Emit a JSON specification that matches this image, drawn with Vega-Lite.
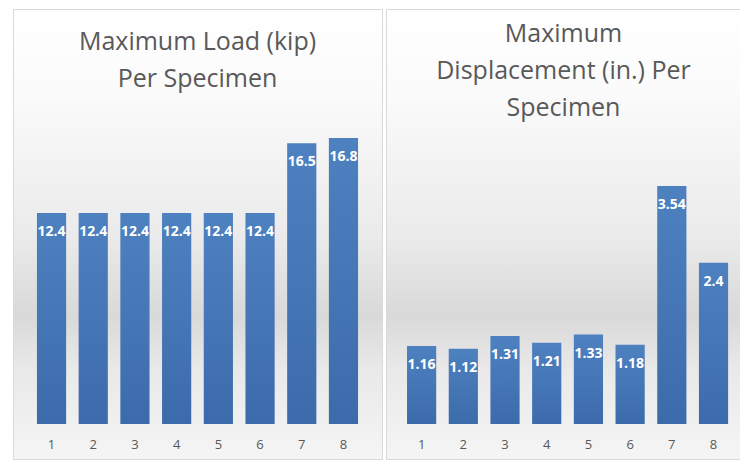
{
  "$schema": "https://vega.github.io/schema/vega-lite/v6.json",
  "padding": {"left": 12, "top": 8, "right": 0, "bottom": 3},
  "autosize": {"type": "pad"},
  "background": "#ffffff",
  "spacing": 4,
  "bounds": "flush",
  "datasets": {
    "load": [
      {"specimen": "1", "value": 12.4},
      {"specimen": "2", "value": 12.4},
      {"specimen": "3", "value": 12.4},
      {"specimen": "4", "value": 12.4},
      {"specimen": "5", "value": 12.4},
      {"specimen": "6", "value": 12.4},
      {"specimen": "7", "value": 16.5},
      {"specimen": "8", "value": 16.8}
    ],
    "displacement": [
      {"specimen": "1", "value": 1.16},
      {"specimen": "2", "value": 1.12},
      {"specimen": "3", "value": 1.31},
      {"specimen": "4", "value": 1.21},
      {"specimen": "5", "value": 1.33},
      {"specimen": "6", "value": 1.18},
      {"specimen": "7", "value": 3.54},
      {"specimen": "8", "value": 2.4}
    ]
  },
  "config": {
    "font": "Open Sans",
    "view": {
      "stroke": "#d9d9d9",
      "strokeWidth": 1,
      "fill": {
        "gradient": "linear",
        "x1": 0, "y1": 0, "x2": 0, "y2": 1,
        "stops": [
          {"offset": 0, "color": "#ffffff"},
          {"offset": 0.2, "color": "#fafafa"},
          {"offset": 0.5, "color": "#ebebeb"},
          {"offset": 0.68, "color": "#d9d9d9"},
          {"offset": 0.8, "color": "#e9e9e9"},
          {"offset": 1, "color": "#f5f5f5"}
        ]
      }
    },
    "title": {
      "font": "Open Sans",
      "fontSize": 25,
      "fontWeight": "normal",
      "color": "#595959",
      "anchor": "middle",
      "baseline": "top",
      "lineHeight": 37
    },
    "axisX": {
      "orient": "bottom",
      "offset": -35,
      "domain": false,
      "ticks": false,
      "grid": false,
      "title": null,
      "labelAngle": 0,
      "labelFont": "Open Sans",
      "labelFontSize": 13,
      "labelColor": "#595959",
      "labelPadding": 14
    }
  },
  "hconcat": [
    {
      "width": 369,
      "height": 450,
      "title": {"text": ["Maximum Load (kip)", "Per Specimen"], "offset": -83},
      "data": {"name": "load"},
      "encoding": {
        "x": {
          "field": "specimen",
          "type": "ordinal",
          "scale": {"paddingInner": 0.3, "paddingOuter": 0.574}
        },
        "y": {
          "field": "value",
          "type": "quantitative",
          "scale": {"domain": [-2.056, 24.38], "nice": false, "zero": false},
          "axis": null
        }
      },
      "layer": [
        {
          "mark": {
            "type": "bar",
            "color": {
              "gradient": "linear",
              "x1": 0, "y1": 0, "x2": 0, "y2": 1,
              "stops": [
                {"offset": 0, "color": "#4e81c0"},
                {"offset": 1, "color": "#3c6bab"}
              ]
            }
          }
        },
        {
          "mark": {
            "type": "text",
            "baseline": "middle",
            "dy": 19,
            "font": "Open Sans",
            "fontSize": 14,
            "fontWeight": "bold",
            "color": "#ffffff"
          },
          "encoding": {"text": {"field": "value", "type": "quantitative"}}
        }
      ]
    },
    {
      "width": 355,
      "height": 450,
      "title": {"text": ["Maximum", "Displacement (in.) Per", "Specimen"], "offset": -112},
      "data": {"name": "displacement"},
      "encoding": {
        "x": {
          "field": "specimen",
          "type": "ordinal",
          "scale": {"paddingInner": 0.3, "paddingOuter": 0.4065, "align": 0.62}
        },
        "y": {
          "field": "value",
          "type": "quantitative",
          "scale": {"domain": [-0.521, 6.176], "nice": false, "zero": false},
          "axis": null
        }
      },
      "layer": [
        {
          "mark": {
            "type": "bar",
            "color": {
              "gradient": "linear",
              "x1": 0, "y1": 0, "x2": 0, "y2": 1,
              "stops": [
                {"offset": 0, "color": "#4e81c0"},
                {"offset": 1, "color": "#3c6bab"}
              ]
            }
          }
        },
        {
          "mark": {
            "type": "text",
            "baseline": "middle",
            "dy": 19,
            "font": "Open Sans",
            "fontSize": 14,
            "fontWeight": "bold",
            "color": "#ffffff"
          },
          "encoding": {"text": {"field": "value", "type": "quantitative"}}
        }
      ]
    }
  ]
}
